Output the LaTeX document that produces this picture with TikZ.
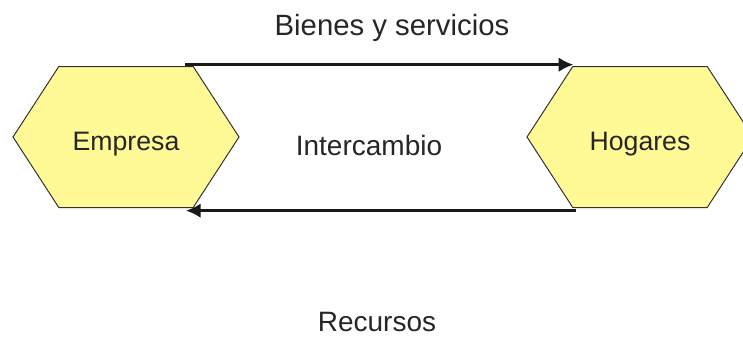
\documentclass[tikz,border=0pt]{standalone}
\usepackage{fontspec}
\setmainfont{Liberation Sans}
\usepackage{tikz}
\usetikzlibrary{positioning}
\usetikzlibrary{shapes.symbols}
\usetikzlibrary{arrows.meta}
\definecolor{hexyellow}{RGB}{255,250,150}
\tikzset{
  hex_box/.style={signal, signal to=west and east, signal pointer angle=114, draw, color=black!80, fill=hexyellow, text=black!85, line width=0.75pt, minimum width=169.5pt, minimum height=105.75pt, inner sep=0, text height=19.5pt, text depth=0pt, font=\fontsize{20}{24}\selectfont},
  arrow_flow/.style={-{Latex[length=11pt, width=11pt]}, line width=2pt, color=black!90},
  label_text/.style={anchor=base, inner sep=0, text=black!85, font=\fontsize{21}{25}\selectfont}}
\begin{document}
\begin{tikzpicture}[x=0.75pt, y=-0.75pt]
\useasboundingbox (0,0) rectangle (743,337);

\node[hex_box] at (126,137) (empresa) {Empresa};
\node[hex_box] at (640,137) (hogares) {Hogares};

%% arrows
\draw[arrow_flow] ([xshift=44pt, yshift=1pt]empresa.north) -- ([xshift=-50pt, yshift=1pt]hogares.north);
\draw[arrow_flow] ([xshift=-48pt, yshift=-2pt]hogares.south) -- ([xshift=45pt, yshift=-2pt]empresa.south);

\node[label_text, font=\fontsize{22}{26}\selectfont] at (392,35) (bienes) {Bienes y servicios};
\node[label_text] at (369,155) (intercambio) {Intercambio};
\node[label_text] at (377,331) (recursos) {Recursos};
\end{tikzpicture}
\end{document}
